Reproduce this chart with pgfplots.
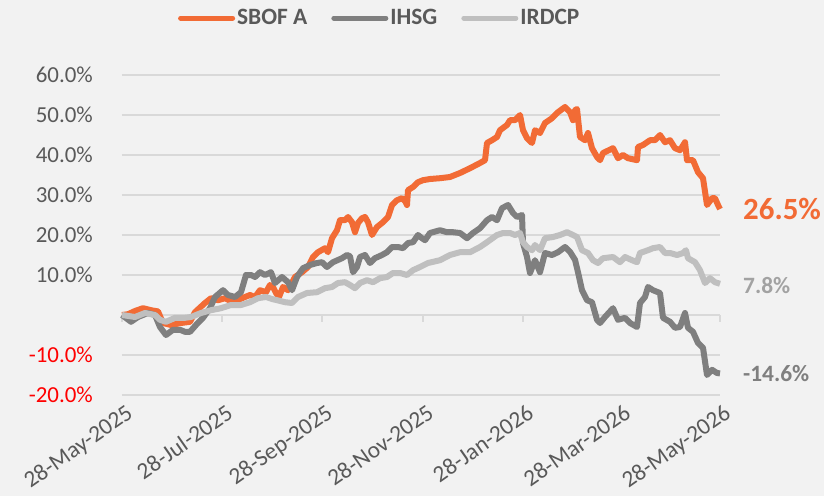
\documentclass[border=0pt]{standalone}
\usepackage{pgfplots}
\pgfplotsset{compat=1.18}
\usepackage{fontspec}
\setmainfont{Carlito}
\definecolor{sbof}{HTML}{F26B35}
\definecolor{ihsg}{HTML}{7F7F7F}
\definecolor{irdcp}{HTML}{BFBFBF}
\definecolor{gridc}{HTML}{D9D9D9}
\definecolor{txt}{HTML}{595959}
\definecolor{bg}{HTML}{F2F2F2}
\begin{document}
\begin{tikzpicture}
\fill[bg] (-122bp,-101bp) rectangle (702bp,395bp);
\begin{axis}[
  at={(0,0)}, anchor=south west,
  scale only axis, width=598bp, height=320bp,
  xmin=122, xmax=720, ymin=-20, ymax=60,
  clip=false,
  axis line style={draw=none},
  major tick length=0pt,
  ytick={-20,-10,0,10,20,30,40,50,60},
  yticklabels={\textcolor{red}{-20.0\%},\textcolor{red}{-10.0\%},{},10.0\%,20.0\%,30.0\%,40.0\%,50.0\%,60.0\%},
  xtick={122,222,322,423,523,620,720},
  xticklabels={28-May-2025,28-Jul-2025,28-Sep-2025,28-Nov-2025,28-Jan-2026,28-Mar-2026,28-May-2026},
  ymajorgrids, grid style={gridc, line width=2bp},
  yticklabel style={font=\fontsize{23}{23}\selectfont, text=txt, anchor=east, inner sep=0pt, xshift=-29bp},
  xticklabel style={font=\fontsize{23.5}{24}\selectfont, text=txt, xshift=3bp, yshift=-8bp, rotate=35, anchor=north east, inner sep=0pt},
  legend style={at={(0.431,1.178)}, anchor=center, draw=none, fill=none, legend columns=-1,
    font=\bfseries\fontsize{23.5}{24}\selectfont, text=txt,
    /tikz/every even column/.append style={column sep=22bp}},
  legend image code/.code={\draw[#1, line width=5bp, line cap=round] (0bp,0bp) -- (52bp,0bp);},
]
\pgfplotsinvokeforeach{122,222,322,423,523,620,720}{
  \draw[gridc, line width=1.5bp] (axis cs:#1,0) -- ++(0bp,-7bp);
}
\addplot[sbof, line width=6bp, line join=round] coordinates {
(122,0) (128,0.2) (135,1.0) (143,1.7) (151,1.2) (158,0.9) (163,-2.0) (171,-2.5) (181,-2.0) (190,-1.7)
(195,0.7) (205,3.0) (211,4.2) (218,3.7) (225,4.2) (233,3.2) (245,4.5) (250,5.0) (255,4.5) (260,6.2)
(266,5.7) (270,7.5) (273,7.0) (276,5.5) (279,4.5) (283,7.0) (288,6.2) (295,9.5) (302,10.7) (308,12.0)
(313,14.5) (318,15.7) (325,16.7) (328,15.7) (332,19.2) (337,21.2) (340,23.7) (345,23.7) (348,24.5) (352,23.2)
(355,20.7) (358,23.0) (362,24.2) (365,24.5) (368,23.2) (372,20.0) (377,22.0) (383,23.2) (388,24.5) (392,27.5)
(397,28.7) (402,29.2) (405,28.5) (407,27.5) (408,31.2) (413,32.0) (418,33.2) (423,33.7) (430,34.0) (440,34.2)
(450,34.5) (460,35.5) (470,36.7) (480,38.0) (485,38.7) (487,43.0) (492,43.7) (497,44.5) (500,46.2) (507,47.5)
(510,48.7) (515,48.7) (520,50.0) (523,46.2) (527,44.2) (532,43.0) (535,46.2) (540,45.5) (545,48.0) (552,49.2)
(558,50.7) (565,52.0) (570,50.7) (573,48.7) (575,51.2) (577,51.5) (580,44.5) (585,43.7) (588,45.5) (592,41.7)
(597,39.5) (600,38.7) (603,40.5) (613,41.7) (618,39.2) (623,40.0) (628,39.2) (637,38.7) (638,42.0) (643,42.5)
(650,43.7) (655,43.7) (660,45.0) (665,43.2) (670,43.7) (675,41.7) (680,41.2) (685,43.2) (687,38.7) (693,38.7)
(698,35.7) (703,34.2) (707,27.5) (712,29.2) (715,29.2) (718,27.5) (720,26.5)
};
\addlegendentry{SBOF A}
\addplot[ihsg, line width=6bp, line join=round] coordinates {
(122,0) (131,-1.7) (138,-0.5) (148,0.5) (155,0) (160,-3.0) (166,-5.0) (173,-3.7) (180,-3.7) (185,-4.2)
(190,-4.2) (196,-2.5) (203,-0.7) (210,1.7) (215,4.5) (223,6.2) (228,5.0) (235,4.5) (241,5.7) (246,10.0)
(251,10.0) (255,9.5) (260,10.7) (265,10.0) (271,10.7) (275,8.0) (282,9.5) (288,8.2) (292,6.2) (297,9.5)
(303,11.7) (310,12.5) (317,13.0) (322,13.2) (327,12.0) (333,13.2) (342,14.2) (347,15.0) (350,14.7) (353,10.7)
(357,12.0) (360,14.5) (365,15.0) (370,13.0) (375,14.2) (382,15.0) (387,15.7) (392,17.0) (398,17.0) (403,16.7)
(408,18.0) (413,18.2) (418,20.0) (422,19.2) (425,18.7) (430,20.5) (440,21.2) (447,20.7) (453,20.7) (460,20.5)
(467,19.2) (473,20.5) (480,21.7) (487,23.7) (492,24.5) (497,23.7) (502,26.7) (508,27.5) (513,25.5) (517,24.5)
(522,25.0) (523,18.0) (527,14.5) (530,10.5) (535,13.7) (540,10.7) (545,15.5) (552,15.0) (558,15.7) (565,17.0)
(570,15.8) (575,13.8) (578,10.7) (582,6.2) (587,3.7) (592,3.2) (597,-1.2) (600,-2.0) (605,-0.5) (613,1.7)
(618,-1.2) (625,-0.7) (630,-2.0) (637,-3.0) (640,3.0) (645,4.5) (648,7.0) (653,6.2) (660,5.5) (663,-0.7)
(670,-1.7) (675,-3.2) (680,-3.0) (685,0.5) (688,-3.2) (693,-4.2) (698,-7.0) (703,-8.2) (707,-15.0) (712,-13.7)
(717,-14.5) (720,-14.6)
};
\addlegendentry{IHSG}
\addplot[irdcp, line width=6bp, line join=round] coordinates {
(122,0) (135,-0.5) (145,0.5) (155,0) (160,-1.2) (166,-1.7) (175,-0.7) (185,-0.7) (191,-0.5) (201,0.5)
(211,1.2) (221,1.7) (231,2.5) (241,2.5) (250,3.2) (258,4.2) (266,4.5) (272,4.0) (277,3.7) (285,3.2)
(292,3.0) (298,4.5) (307,5.5) (317,5.7) (325,6.7) (332,7.0) (338,8.0) (345,8.2) (350,7.5) (355,6.7)
(360,8.0) (367,8.7) (373,8.2) (380,9.2) (387,9.5) (393,10.5) (400,10.5) (407,10.0) (413,11.2) (420,12.0)
(428,13.0) (440,13.7) (450,15.0) (460,15.7) (470,15.7) (480,17.0) (487,18.2) (497,20.0) (503,20.5) (510,20.5)
(515,20.0) (520,20.5) (523,18.2) (527,17.0) (532,16.2) (535,17.5) (540,16.2) (545,19.2) (553,19.5) (560,20.0)
(567,20.7) (573,20.0) (577,19.5) (582,16.2) (588,15.5) (593,13.7) (598,13.0) (603,14.2) (613,14.5) (620,13.2)
(625,14.5) (632,13.7) (637,13.2) (640,15.5) (648,16.2) (653,16.7) (660,17.0) (665,15.5) (670,15.5) (677,15.0)
(683,15.5) (686,16.2) (688,14.2) (695,13.2) (700,11.2) (705,8.0) (710,9.2) (715,8.2) (720,7.8)
};
\addlegendentry{IRDCP}
\node[anchor=west, xshift=23bp, inner sep=0pt, text=sbof, font=\bfseries\fontsize{31}{31}\selectfont] at (axis cs:720,26.5) {26.5\%};
\node[anchor=west, xshift=23bp, inner sep=0pt, text=irdcp!85!black, font=\bfseries\fontsize{23.5}{24}\selectfont] at (axis cs:720,7.3) {7.8\%};
\node[anchor=west, xshift=23bp, inner sep=0pt, text=ihsg, font=\bfseries\fontsize{23.5}{24}\selectfont] at (axis cs:720,-14.6) {-14.6\%};
\end{axis}
\end{tikzpicture}
\end{document}
